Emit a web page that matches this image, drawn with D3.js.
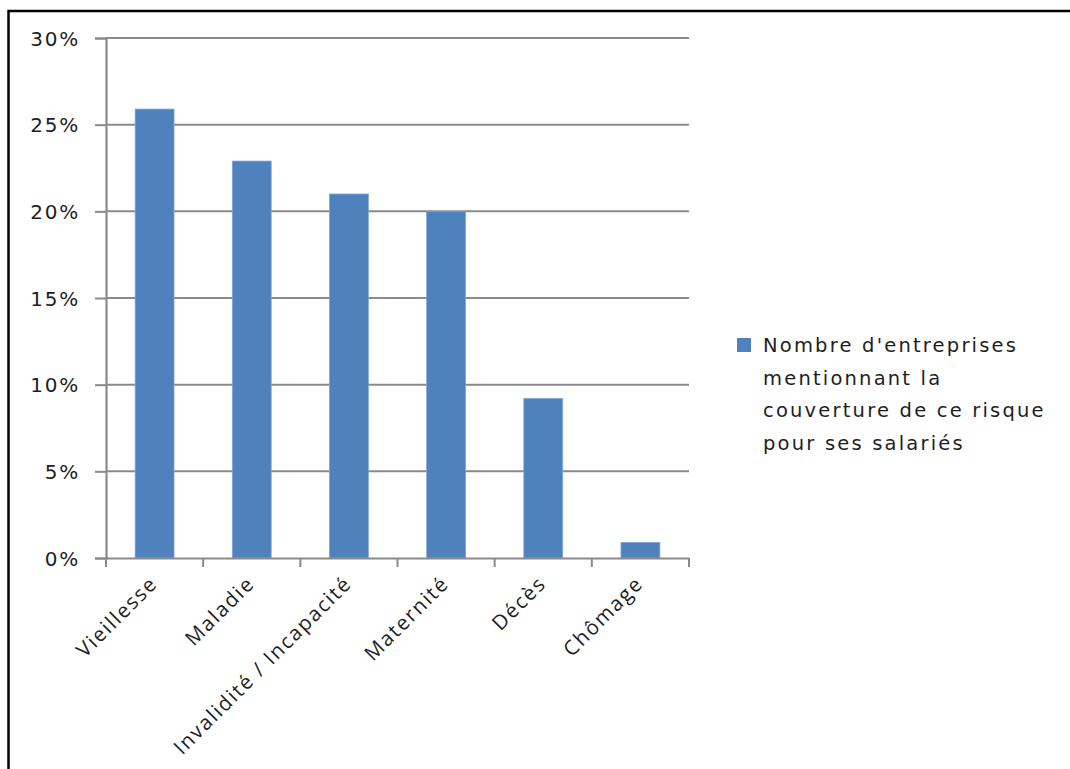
<!DOCTYPE html>
<html><head><meta charset="utf-8">
<script src="https://cdn.jsdelivr.net/npm/d3@7"></script>
<style>body{margin:0;background:#fff}svg{display:block}</style>
</head><body>
<script>
const categories = ["Vieillesse","Maladie","Invalidité / Incapacité","Maternité","Décès","Chômage"];
const values = [25.9, 22.9, 21.0, 20.0, 9.2, 0.9];
const yTicks = [0,5,10,15,20,25,30];
const legendLines = ["Nombre d'entreprises","mentionnant la","couverture de ce risque","pour ses salariés"];

(function(){
const W=1070,H=769;
const svg=d3.select("body").append("svg").attr("width",W).attr("height",H);
svg.append("rect").attr("x",0).attr("y",0).attr("width",W).attr("height",H).attr("fill","#fff");
svg.append("path").attr("d",`M8.5,${H+5} L8.5,11 L${W+5},11`).attr("fill","none").attr("stroke","#000").attr("stroke-width",2.5);

const pL=106,pR=689,pT=38,pB=558;
const x=d3.scaleBand().domain(categories).range([pL,pR]).paddingInner(0.6).paddingOuter(0.3);
const xb=d3.scaleBand().domain(categories).range([pL,pR]);
const y=d3.scaleLinear().domain([0,30]).range([pB,pT]);

svg.append("g").selectAll("line").data(yTicks.filter(d=>d>0)).join("line")
 .attr("x1",pL).attr("x2",pR).attr("y1",d=>y(d)).attr("y2",d=>y(d))
 .attr("stroke","#8a8a8a").attr("stroke-width",2);

svg.append("g").selectAll("rect").data(values).join("rect")
 .attr("x",(d,i)=>x(categories[i])).attr("width",x.bandwidth())
 .attr("y",d=>y(d)).attr("height",d=>pB-y(d))
 .attr("fill","#4f81bd").attr("stroke","#7fa5d6").attr("stroke-width",0.8);

const yAxis=d3.axisLeft(y).tickValues(yTicks).tickFormat(d=>d+"%").tickSize(11).tickPadding(15);
const gy=svg.append("g").attr("transform",`translate(${pL},0)`).call(yAxis);
gy.select(".domain").attr("stroke","#8a8a8a").attr("stroke-width",2.2);
gy.selectAll(".tick line").attr("stroke","#8a8a8a").attr("stroke-width",2);
gy.selectAll("text").attr("font-family","'DejaVu Sans'").attr("font-size","20px").attr("letter-spacing","1.8px").attr("fill","#1e1e1e").attr("dy","0.36em");

const xAxis=d3.axisBottom(xb).tickSize(0).tickFormat("");
const gx=svg.append("g").attr("transform",`translate(0,${pB})`).call(xAxis);
gx.select(".domain").attr("stroke","#8a8a8a").attr("stroke-width",2.2);
gx.selectAll(".tick").remove();
const bounds=categories.map(c=>xb(c)).concat([pR]);
gx.selectAll("line.tk").data(bounds).join("line").attr("class","tk")
 .attr("x1",d=>d).attr("x2",d=>d).attr("y1",0).attr("y2",9)
 .attr("stroke","#8a8a8a").attr("stroke-width",2);
gx.selectAll("text.lbl").data(categories).join("text").attr("class","lbl")
 .attr("transform",d=>`translate(${xb(d)+xb.bandwidth()/2+4},${27}) rotate(-45)`)
 .attr("text-anchor","end")
 .attr("font-family","'Open Sans'").attr("font-size","20.5px").attr("letter-spacing","1.7px").attr("fill","#1e1e1e")
 .text(d=>d);

const lg=svg.append("g");
lg.append("rect").attr("x",737).attr("y",338).attr("width",14).attr("height",14).attr("fill","#4f81bd");
lg.selectAll("text").data(legendLines).join("text")
 .attr("x",763).attr("y",(d,i)=>352+i*32.5)
 .attr("font-family","'DejaVu Sans'").attr("font-size","19.5px").attr("letter-spacing","2.2px").attr("fill","#1e1e1e")
 .text(d=>d);
})();
</script>
</body></html>
